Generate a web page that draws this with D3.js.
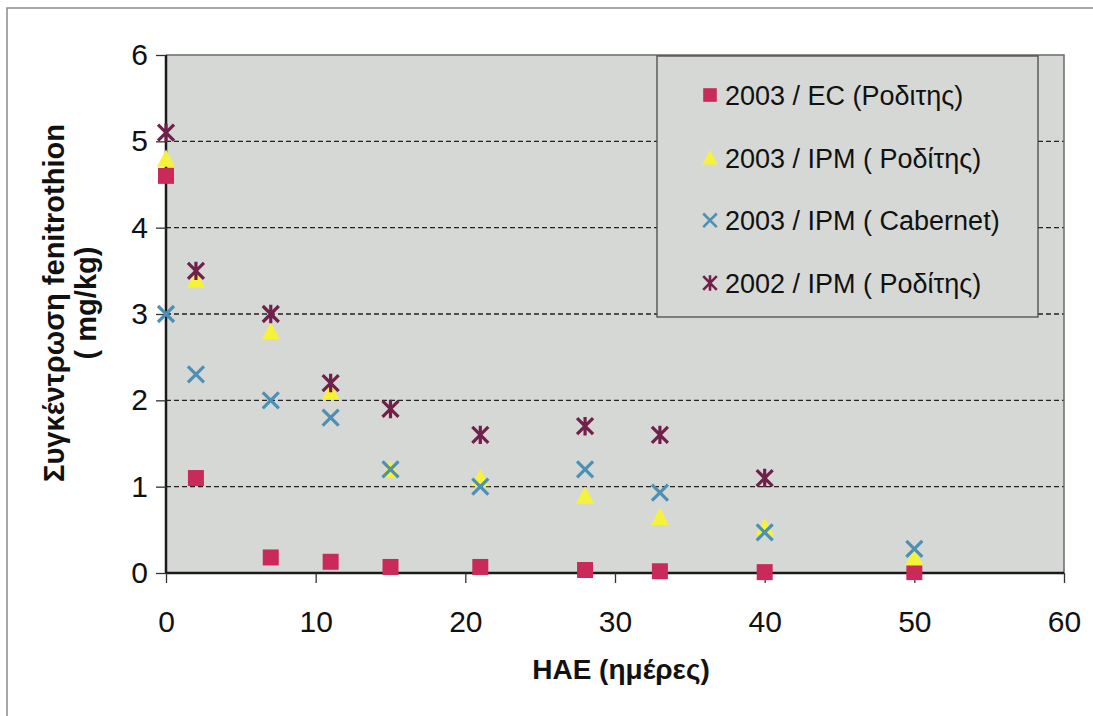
<!DOCTYPE html>
<html>
<head>
<meta charset="utf-8">
<script src="https://cdn.jsdelivr.net/npm/d3@7"></script>
<style>
  body { margin: 0; background: #fff; }
  svg { display: block; font-family: "Liberation Sans", Arial, sans-serif; }
</style>
</head>
<body>
<div id="grafico"></div>
<script>
// Ημέρες μετά τον ψεκασμό
const days = [0, 2, 7, 11, 15, 21, 28, 33, 40, 50];

// Συγκέντρωση fenitrothion (mg/kg) ανά σειρά
const ec2003 = [4.6, 1.1, 0.18, 0.13, 0.07, 0.07, 0.035, 0.02, 0.01, 0.01];
const ipmRoditis2003 = [4.8, 3.4, 2.8, 2.1, 1.2, 1.1, 0.9, 0.65, 0.53, 0.18];
const ipmCabernet2003 = [3.0, 2.3, 2.0, 1.8, 1.2, 1.0, 1.2, 0.93, 0.47, 0.28];
const ipmRoditis2002 = [5.1, 3.5, 3.0, 2.2, 1.9, 1.6, 1.7, 1.6, 1.1];

const seriesNames = [
  '2003 / EC (Ροδιτης)',
  '2003 / IPM ( Ροδίτης)',
  '2003 / IPM ( Cabernet)',
  '2002 / IPM ( Ροδίτης)'
];
const xTicks = [0, 10, 20, 30, 40, 50, 60];
const yTicks = [0, 1, 2, 3, 4, 5, 6];

const width = 1093;
const height = 716;
const plot = { left: 166, right: 1064, top: 55, bottom: 573 };
const bg = '#d6d8d5';

const svg = d3.select('#grafico')
  .append('svg')
  .attr('width', width)
  .attr('height', height);

// Εξωτερικό πλαίσιο
svg.append('rect')
  .attr('x', 7).attr('y', 8)
  .attr('width', width + 20).attr('height', height + 20)
  .attr('fill', 'none').attr('stroke', '#8a8a8a').attr('stroke-width', 1.5);

const x = d3.scaleLinear().domain([0, 60]).range([plot.left, plot.right]);
const y = d3.scaleLinear().domain([0, 6]).range([plot.bottom, plot.top]);

// Φόντο περιοχής σχεδίασης
svg.append('rect')
  .attr('x', plot.left).attr('y', plot.top)
  .attr('width', plot.right - plot.left).attr('height', plot.bottom - plot.top)
  .attr('fill', bg);

// Οριζόντιες γραμμές πλέγματος
svg.append('g')
  .selectAll('line')
  .data(yTicks.filter(d => d > 0 && d < 6))
  .enter()
  .append('line')
  .attr('x1', plot.left).attr('x2', plot.right)
  .attr('y1', d => y(d)).attr('y2', d => y(d))
  .attr('stroke', '#222').attr('stroke-width', 1.3)
  .attr('stroke-dasharray', '5,3');

// Πάνω και δεξί περίγραμμα
svg.append('path')
  .attr('d', `M${plot.left},${plot.top}H${plot.right}V${plot.bottom}`)
  .attr('fill', 'none').attr('stroke', '#6a6a6a').attr('stroke-width', 1.5);

// Άξονες
const axisY = svg.append('g')
  .attr('transform', `translate(${plot.left},0)`)
  .call(d3.axisLeft(y).tickValues(yTicks).tickSize(10).tickPadding(8).tickFormat(d3.format('d')));
const axisX = svg.append('g')
  .attr('transform', `translate(0,${plot.bottom})`)
  .call(d3.axisBottom(x).tickValues(xTicks).tickSize(10).tickPadding(28).tickFormat(d3.format('d')));

[axisY, axisX].forEach(a => {
  a.select('.domain').attr('stroke', '#1a1a1a').attr('stroke-width', 2.5);
  a.selectAll('.tick line').attr('stroke', '#333').attr('stroke-width', 1.3);
  a.selectAll('.tick text')
    .attr('fill', '#111')
    .style('font-size', '30px')
    .style('font-family', '"Liberation Sans", Arial, sans-serif');
});
axisY.select('.domain').attr('d', `M0,${plot.top}V${plot.bottom}`);
axisX.select('.domain').attr('d', `M${plot.left},0H${plot.right}`);

// Σύμβολα
const starPath = s => {
  const r = s / 2;
  return `M${-r},${-r}L${r},${r}M${-r},${r}L${r},${-r}M0,${-r * 1.15}L0,${r * 1.15}`;
};
const timesPath = s => {
  const r = s / 2;
  return `M${-r},${-r}L${r},${r}M${-r},${r}L${r},${-r}`;
};
const trianglePath = s => {
  const h = s * 0.9;
  return `M0,${-h / 2 - 1}L${s / 2},${h / 2}L${-s / 2},${h / 2}Z`;
};
const squarePath = s => `M${-s / 2},${-s / 2}h${s}v${s}h${-s}Z`;

const series = [
  { name: seriesNames[0], values: ec2003, shape: squarePath, size: 16, fill: '#c92a5a', stroke: 'none' },
  { name: seriesNames[1], values: ipmRoditis2003, shape: trianglePath, size: 18, fill: '#f6f23a', stroke: 'none' },
  { name: seriesNames[2], values: ipmCabernet2003, shape: timesPath, size: 16, fill: 'none', stroke: '#4c90b4' },
  { name: seriesNames[3], values: ipmRoditis2002, shape: starPath, size: 16, fill: 'none', stroke: '#70204a' }
];

series.forEach(s => {
  svg.append('g')
    .selectAll('path')
    .data(s.values.map((v, i) => ({ x: days[i], y: v })))
    .enter()
    .append('path')
    .attr('transform', d => `translate(${x(d.x)},${y(d.y)})`)
    .attr('d', s.shape(s.size))
    .attr('fill', s.fill)
    .attr('stroke', s.stroke)
    .attr('stroke-width', 3.2);
});

// Υπόμνημα
const legend = svg.append('g');
legend.append('rect')
  .attr('x', 657).attr('y', 56)
  .attr('width', 381).attr('height', 261)
  .attr('fill', bg)
  .attr('stroke', '#4a4a4a').attr('stroke-width', 1.3);

const legendY = d3.scalePoint().domain(seriesNames).range([95, 283]);
series.forEach(s => {
  const row = legend.append('g').attr('transform', `translate(710,${legendY(s.name)})`);
  row.append('path')
    .attr('d', s.shape(s.size * 0.85))
    .attr('fill', s.fill)
    .attr('stroke', s.stroke)
    .attr('stroke-width', 2.6);
  row.append('text')
    .attr('x', 15).attr('y', 10)
    .attr('fill', '#111')
    .style('font-size', '27px')
    .text(s.name);
});

// Τίτλοι αξόνων
svg.append('text')
  .attr('x', 621)
  .attr('y', 679)
  .attr('text-anchor', 'middle')
  .attr('fill', '#111')
  .style('font-size', '28px')
  .style('font-weight', 'bold')
  .text('HAE (ημέρες)');

const yTitle = svg.append('text')
  .attr('transform', 'translate(0,303) rotate(-90)')
  .attr('text-anchor', 'middle')
  .attr('fill', '#111')
  .style('font-size', '29px')
  .style('font-weight', 'bold');
yTitle.append('tspan').attr('x', 0).attr('y', 64).text('Συγκέντρωση fenitrothion');
yTitle.append('tspan').attr('x', 0).attr('y', 96).text('( mg/kg)');
</script>
</body>
</html>
